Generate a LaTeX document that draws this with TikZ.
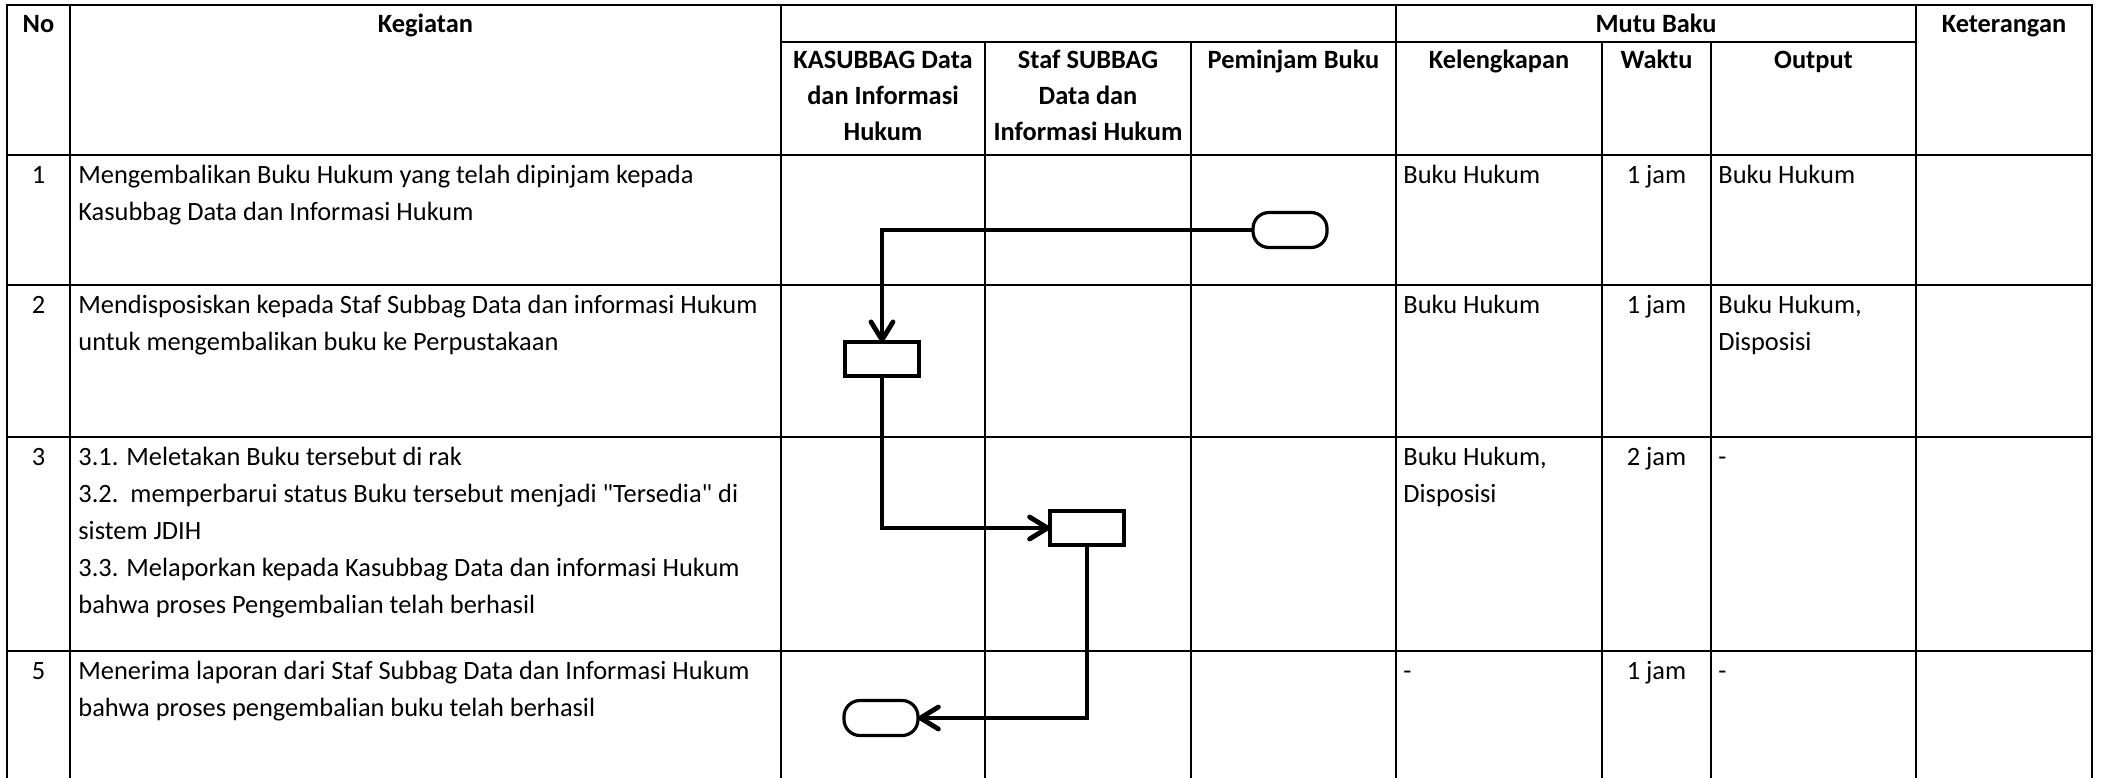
\documentclass[tikz,border=0pt]{standalone}
\usepackage{fontspec}
\setmainfont{Carlito}[Ligatures=TeXOff]
\usetikzlibrary{arrows.meta}

% 多行文字：基线取第一行
\newcommand{\kiri}[1]{\begin{tabular}[t]{@{}l@{}}#1\end{tabular}}
\newcommand{\tengah}[1]{\begin{tabular}[t]{@{}c@{}}#1\end{tabular}}

\begin{document}
\begin{tikzpicture}[
    x=0.5pt, y=-0.5pt,
    font=\fontsize{13.2}{18.5}\selectfont,
    grid/.style={line width=1.4pt, line cap=rect},
    head/.style={font=\fontsize{13.2}{18}\selectfont\bfseries, anchor=base, inner sep=0pt},
    cell/.style={anchor=base west, inner sep=0pt},
    mid/.style={anchor=base, inner sep=0pt},
    proses/.style={draw, line width=1.9pt, minimum width=37pt, minimum height=16.7pt, inner sep=0pt, outer sep=0pt},
    terminal/.style={draw, line width=1.6pt, rounded corners=8pt, minimum width=37pt, minimum height=17.5pt, inner sep=0pt, outer sep=0pt},
    flow/.style={line width=2.4pt, -{Straight Barb[length=9pt,width=11pt,round]}},
]

\useasboundingbox (0,0) rectangle (2102,777);

% ---- 表格线 ----
\draw[grid] (7,5) -- (2092,5);
\draw[grid] (781,42) -- (1916,42);
\draw[grid] (7,155) -- (2092,155);
\foreach \y in {285,437,651}
    \draw[grid] (7,\y) -- (2092,\y);
\foreach \x in {7,70,781,1396,1916,2092}
    \draw[grid] (\x,5) -- (\x,790);
\foreach \x in {985,1191,1602,1711}
    \draw[grid] (\x,42) -- (\x,790);

% ---- 表头 ----
\node[head] (hNo) at (38.5,32) {No};
\node[head] (hKeg) at (425.5,32) {Kegiatan};
\node[head] (hMutu) at (1656,32) {Mutu Baku};
\node[head] (hKet) at (2004,32) {Keterangan};
\node[head] (hKasub) at (883,68.5) {\tengah{KASUBBAG Data\\dan Informasi\\Hukum}};
\node[head] (hStaf) at (1088,68.5) {\tengah{Staf SUBBAG\\Data dan\\Informasi Hukum}};
\node[head] (hPinjam) at (1293.5,68.5) {Peminjam Buku};
\node[head] (hLengkap) at (1499,68.5) {Kelengkapan};
\node[head] (hWaktu) at (1656.5,68.5) {Waktu};
\node[head] (hOutput) at (1813.5,68.5) {Output};

% ---- 第1行 ----
\node[mid] (no1) at (38.5,183) {1};
\node[cell] (keg1) at (78,183) {\kiri{Mengembalikan Buku Hukum yang telah dipinjam kepada\\Kasubbag Data dan Informasi Hukum}};
\node[cell] (lk1) at (1403,183) {Buku Hukum};
\node[mid] (wk1) at (1656.5,183) {1 jam};
\node[cell] (out1) at (1718,183) {Buku Hukum};

% ---- 第2行 ----
\node[mid] (no2) at (38.5,313) {2};
\node[cell] (keg2) at (78,313) {\kiri{Mendisposiskan kepada Staf Subbag Data dan informasi Hukum\\untuk mengembalikan buku ke Perpustakaan}};
\node[cell] (lk2) at (1403,313) {Buku Hukum};
\node[mid] (wk2) at (1656.5,313) {1 jam};
\node[cell] (out2) at (1718,313) {\kiri{Buku Hukum,\\Disposisi}};

% ---- 第3行 ----
\node[mid] (no3) at (38.5,465) {3};
\node[cell] (keg3) at (78,465) {\kiri{3.1. Meletakan Buku tersebut di rak\\3.2.\ \ memperbarui status Buku tersebut menjadi "Tersedia" di\\sistem JDIH\\3.3. Melaporkan kepada Kasubbag Data dan informasi Hukum\\bahwa proses Pengembalian telah berhasil}};
\node[cell] (lk3) at (1403,465) {\kiri{Buku Hukum,\\Disposisi}};
\node[mid] (wk3) at (1656.5,465) {2 jam};
\node[cell] (out3) at (1718,465) {-};

% ---- 第5行 ----
\node[mid] (no5) at (38.5,679) {5};
\node[cell] (keg5) at (78,679) {\kiri{Menerima laporan dari Staf Subbag Data dan Informasi Hukum\\bahwa proses pengembalian buku telah berhasil}};
\node[cell] (lk5) at (1403,679) {-};
\node[mid] (wk5) at (1656.5,679) {1 jam};
\node[cell] (out5) at (1718,679) {-};

% ---- 流程图 ----
\node[terminal] (mulai) at (1290,230) {};
\node[proses] (disposisi) at (882,359) {};
\node[proses] (kembali) at (1087,528) {};
\node[terminal] (selesai) at (881,718) {};

\draw[flow] (mulai.west) -| (disposisi.north);
\draw[flow] (disposisi.south) |- (kembali.west);
\draw[flow] (kembali.south) |- (selesai.east);

\end{tikzpicture}
\end{document}
